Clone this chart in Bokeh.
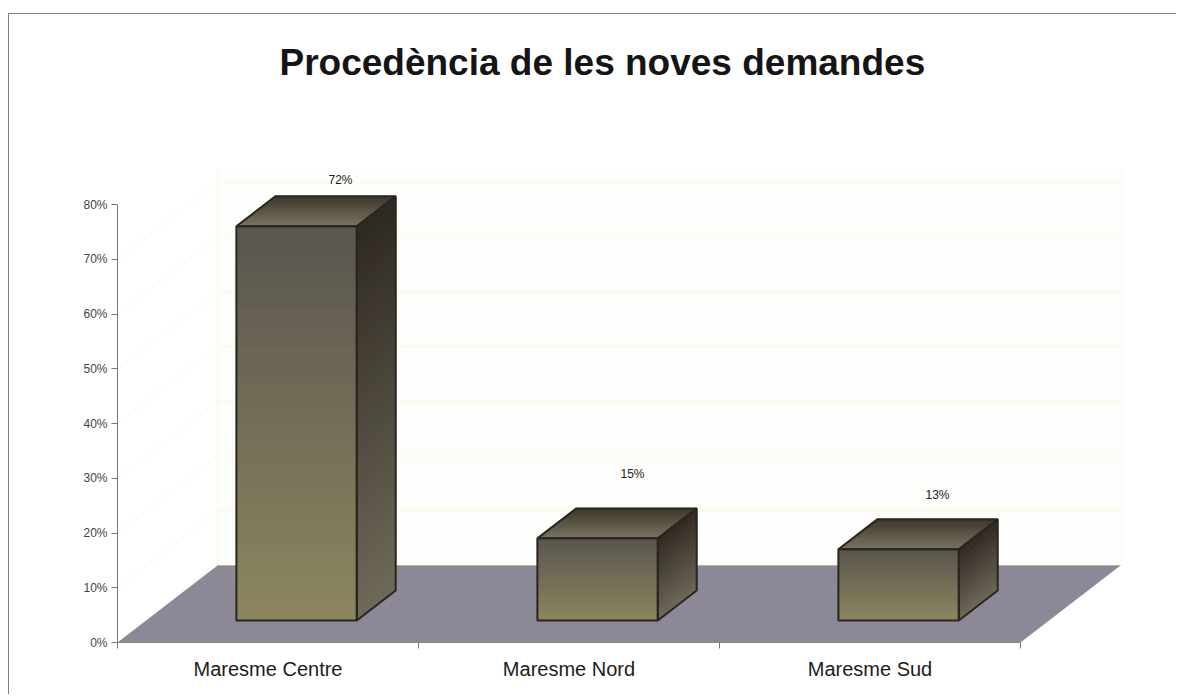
from bokeh.plotting import figure
from bokeh.embed import file_html
from bokeh.resources import INLINE
from bokeh.models import Range1d, FixedTicker, Title
from bokeh.core.properties import value

title_text = "Procedència de les noves demandes"
categories = ["Maresme Centre", "Maresme Nord", "Maresme Sud"]
values = [72, 15, 13]
value_labels = ["72%", "15%", "13%"]
y_ticks = [0, 10, 20, 30, 40, 50, 60, 70, 80]

# label nudges (screen px)
label_dx = [5, -4, 0]
label_dy = [16, 34, 24]

W, H = 1168, 681
FRAME_L, FRAME_T, FRAME_B = 108, 86, 53
CAT_PX, PCT_PX = 301.0, 5.475
FLOOR_DX, FLOOR_DY = 100.0 / CAT_PX, 77.0 / PCT_PX
BAR_HALF = 0.2
D0, D1 = 0.286, 0.675
WALL_TOP = 72.5
N = 40

p = figure(width=W, height=H, output_backend="svg", toolbar_location=None,
           x_range=Range1d(0, (W - FRAME_L) / CAT_PX),
           y_range=Range1d(0, (H - FRAME_T - FRAME_B) / PCT_PX),
           min_border_left=FRAME_L, min_border_right=0, min_border_bottom=FRAME_B, min_border_top=FRAME_T,
           x_axis_type="linear", y_axis_type="linear", background_fill_color="white",
           border_fill_color="white", outline_line_color=None,
           margin=(13, 0, 0, 8),
           styles={"border-top": "1px solid #808080", "border-left": "1px solid #808080"})
p.grid.visible = False

FONT = "Liberation Sans"
p.title = Title(text=title_text, align="left", text_font=FONT, text_font_size="37px",
                text_font_style="bold", text_color="#151515", offset=162, standoff=36)

xa = p.xaxis[0]
xa.ticker = FixedTicker(ticks=[0.5, 1.5, 2.5], minor_ticks=[0, 1, 2, 3])
xa.major_label_overrides = {i + 0.5: c for i, c in enumerate(categories)}
xa.major_tick_line_color = None
xa.major_tick_out = 0
xa.major_tick_in = 0
xa.minor_tick_out = 6
xa.minor_tick_in = 0
xa.minor_tick_line_color = "#777777"
xa.axis_line_color = "#8a8a8a"
xa.bounds = (0, 3)
xa.major_label_standoff = 9
xa.major_label_text_font = FONT
xa.major_label_text_font_size = "20px"
xa.major_label_text_color = "#1c1c1c"

ya = p.yaxis[0]
ya.ticker = FixedTicker(ticks=y_ticks)
ya.major_label_overrides = {v: f"{v}%" for v in y_ticks}
ya.minor_tick_line_color = None
ya.major_tick_out = 6
ya.major_tick_in = 0
ya.major_tick_line_color = "#777777"
ya.axis_line_color = "#777777"
ya.bounds = (0, 80)
ya.major_label_standoff = 4
ya.major_label_text_font = FONT
ya.major_label_text_font_size = "12px"
ya.major_label_text_color = "#444444"


def px(cat, depth):
    return cat + depth * FLOOR_DX


def py(v, depth):
    return v + depth * FLOOR_DY


def mix(a, b, f):
    return "#%02x%02x%02x" % tuple(round(a[i] + (b[i] - a[i]) * f) for i in range(3))


# back wall and faint grid
p.patch([px(0, 1), px(3, 1) + 0.01, px(3, 1) + 0.01, px(0, 1)],
        [py(0, 1), py(0, 1), py(WALL_TOP, 1), py(WALL_TOP, 1)],
        fill_color="#fdfdfb", line_color=None)
for v in y_ticks[1:-1]:
    p.line([px(0, 1), px(3, 1)], [py(v, 1), py(v, 1)], line_color="#fbfbe4", line_width=1.5)
for v in y_ticks[1:-1]:
    p.line([px(0, 0), px(0, 1)], [py(v, 0), py(v, 1)], line_color="#fcfcec", line_width=1.5)
p.line([px(0, 1), px(0, 1)], [py(0, 1), py(WALL_TOP, 1)], line_color="#fbfbe4", line_width=1.5)

# floor
p.patch([px(0, 0), px(3, 0), px(3, 1), px(0, 1)],
        [py(0, 0), py(0, 0), py(0, 1), py(0, 1)],
        fill_color="#8d8898", line_color=None)
p.line([px(0, 1), px(3, 1)], [py(0, 1), py(0, 1)], line_color="#b8b49a", line_width=1)

FRONT_T, FRONT_B = (90, 85, 78), (140, 135, 96)
SIDE_T, SIDE_B = (46, 40, 34), (110, 105, 88)
TOP_F, TOP_B = (122, 117, 98), (62, 56, 44)
EDGE = "#2a261e"

for i, v in enumerate(values):
    cx = i + 0.5
    l, r = cx - BAR_HALF, cx + BAR_HALF
    xs, ys, cs = [], [], []
    for k in range(N):
        a, b = v * k / N, v * (k + 1) / N
        f = (k + 0.5) / N
        xs.append([px(l, D0), px(r, D0), px(r, D0), px(l, D0)])
        ys.append([py(a, D0), py(a, D0), py(b, D0), py(b, D0)])
        cs.append(mix(FRONT_B, FRONT_T, f))
        xs.append([px(r, D0), px(r, D1), px(r, D1), px(r, D0)])
        ys.append([py(a, D0), py(a, D1), py(b, D1), py(b, D0)])
        cs.append(mix(SIDE_B, SIDE_T, f))
    M = 14
    for k in range(M):
        d0 = D0 + (D1 - D0) * k / M
        d1 = D0 + (D1 - D0) * (k + 1) / M
        xs.append([px(l, d0), px(r, d0), px(r, d1), px(l, d1)])
        ys.append([py(v, d0), py(v, d0), py(v, d1), py(v, d1)])
        cs.append(mix(TOP_F, TOP_B, (k + 0.5) / M))
    p.patches(xs, ys, fill_color=cs, line_color=cs, line_width=1)
    p.patches([[px(l, D0), px(r, D0), px(r, D0), px(l, D0)],
               [px(r, D0), px(r, D1), px(r, D1), px(r, D0)],
               [px(l, D0), px(r, D0), px(r, D1), px(l, D1)]],
              [[py(0, D0), py(0, D0), py(v, D0), py(v, D0)],
               [py(0, D0), py(0, D1), py(v, D1), py(v, D0)],
               [py(v, D0), py(v, D0), py(v, D1), py(v, D1)]],
              fill_alpha=0, line_color=EDGE, line_width=2)

    p.text([px(cx, D1)], [py(v, D1)], text=[value_labels[i]], text_font=value(FONT),
           text_font_size="12px", text_color="#222222", text_align="center",
           text_baseline="middle", x_offset=label_dx[i], y_offset=-label_dy[i])

open("out.html", "w").write(file_html(p, INLINE))
